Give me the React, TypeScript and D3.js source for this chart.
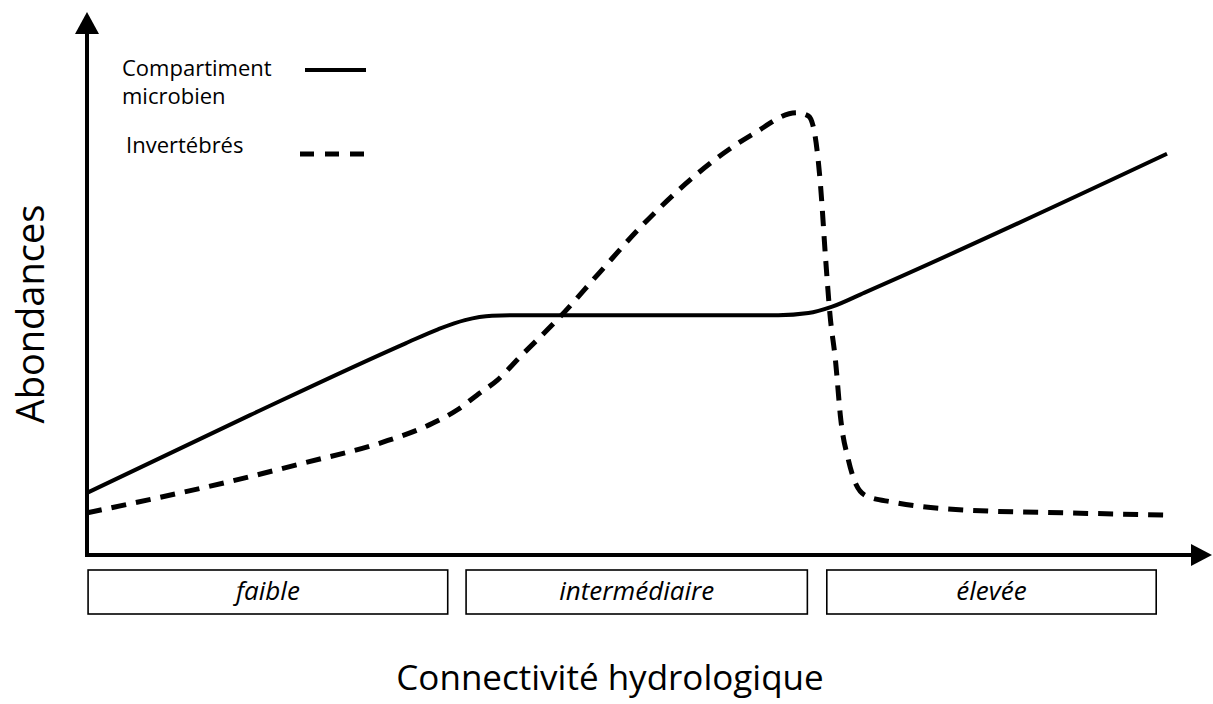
import { useEffect, useRef } from "react";
import * as d3 from "d3";

// connectivity (0-10) vs abundance (0-10)
const microbienX = [0, 1.51, 2.95, 3.25, 3.5, 3.75, 4.0, 6.4, 6.68, 6.9, 7.2, 10];
const microbienY = [1.15, 2.59, 3.92, 4.18, 4.35, 4.43, 4.44, 4.44, 4.48, 4.6, 4.86, 7.43];

const invertX = [
  0, 0.68, 1.3, 2.0, 2.74, 3.2, 3.43, 3.61, 3.8, 4.01, 4.38, 4.75, 5.12, 5.49,
  5.82, 6.17, 6.57, 6.68, 6.74, 6.79, 6.84, 6.88, 6.93, 6.98, 7.05, 7.12, 7.22,
  7.46, 8.15, 9.07, 10,
];
const invertY = [
  0.78, 1.07, 1.35, 1.7, 2.09, 2.44, 2.69, 2.96, 3.24, 3.67, 4.41, 5.24, 6.06,
  6.78, 7.33, 7.8, 8.19, 8.13, 7.78, 6.89, 5.46, 4.44, 3.61, 2.5, 1.76, 1.31,
  1.09, 0.98, 0.83, 0.78, 0.74,
];

const zoneLabels = ["faible", "intermédiaire", "élevée"];
const zoneStart = [0.01, 3.51, 6.85];
const zoneEnd = [3.34, 6.67, 9.9];

const legendLabels = [["Compartiment", "microbien"], ["Invertébrés"]];

const font = "'Open Sans', 'Noto Sans', sans-serif";

function App() {
  const svgRef = useRef(null);

  useEffect(() => {
    const width = 1213;
    const height = 704;
    const svg = d3.select(svgRef.current);
    svg.selectAll("*").remove();

    const x = d3.scaleLinear().domain([0, 10]).range([87, 1167]);
    const y = d3.scaleLinear().domain([0, 10]).range([555, 15]);

    const x0 = x(0);
    const y0 = y(0);

    // axes with arrowheads
    svg
      .append("line")
      .attr("x1", x0)
      .attr("y1", y0 + 2)
      .attr("x2", x0)
      .attr("y2", 30)
      .attr("stroke", "black")
      .attr("stroke-width", 4);
    svg
      .append("path")
      .attr("d", `M${x0},12 L${x0 - 12},34 L${x0 + 12},34 Z`)
      .attr("fill", "black");

    svg
      .append("line")
      .attr("x1", x0 - 2)
      .attr("y1", y0)
      .attr("x2", 1195)
      .attr("y2", y0)
      .attr("stroke", "black")
      .attr("stroke-width", 4);
    svg
      .append("path")
      .attr("d", `M1212,${y0} L1191,${y0 - 11} L1191,${y0 + 11} Z`)
      .attr("fill", "black");

    // curves
    const line = d3
      .line()
      .x((d) => x(d[0]))
      .y((d) => y(d[1]))
      .curve(d3.curveMonotoneX);

    svg
      .append("path")
      .attr("d", line(microbienX.map((v, i) => [v, microbienY[i]])))
      .attr("fill", "none")
      .attr("stroke", "black")
      .attr("stroke-width", 4);

    svg
      .append("path")
      .attr("d", line(invertX.map((v, i) => [v, invertY[i]])))
      .attr("fill", "none")
      .attr("stroke", "black")
      .attr("stroke-width", 5)
      .attr("stroke-dasharray", "15 10");

    // zone boxes
    const zones = svg
      .selectAll("g.zone")
      .data(zoneLabels)
      .enter()
      .append("g")
      .attr("class", "zone");
    zones
      .append("rect")
      .attr("x", (d, i) => x(zoneStart[i]))
      .attr("y", 570)
      .attr("width", (d, i) => x(zoneEnd[i]) - x(zoneStart[i]))
      .attr("height", 44)
      .attr("fill", "white")
      .attr("stroke", "black")
      .attr("stroke-width", 1.6);
    zones
      .append("text")
      .attr("x", (d, i) => (x(zoneStart[i]) + x(zoneEnd[i])) / 2)
      .attr("y", 600)
      .attr("text-anchor", "middle")
      .attr("font-family", font)
      .attr("font-style", "italic")
      .attr("font-size", 26)
      .text((d) => d);

    // legend
    const legend = svg.append("g").attr("font-family", font).attr("font-size", 22);
    legend
      .append("text")
      .attr("x", 122)
      .attr("y", 76)
      .text(legendLabels[0][0]);
    legend
      .append("text")
      .attr("x", 122)
      .attr("y", 104)
      .text(legendLabels[0][1]);
    legend
      .append("line")
      .attr("x1", 305)
      .attr("x2", 366)
      .attr("y1", 70)
      .attr("y2", 70)
      .attr("stroke", "black")
      .attr("stroke-width", 4);
    legend
      .append("text")
      .attr("x", 126)
      .attr("y", 153)
      .text(legendLabels[1][0]);
    legend
      .append("line")
      .attr("x1", 300)
      .attr("x2", 368)
      .attr("y1", 154)
      .attr("y2", 154)
      .attr("stroke", "black")
      .attr("stroke-width", 5)
      .attr("stroke-dasharray", "14 11");

    // axis titles
    svg
      .append("text")
      .attr("x", 610)
      .attr("y", 690)
      .attr("text-anchor", "middle")
      .attr("font-family", font)
      .attr("font-size", 35)
      .text("Connectivité hydrologique");
    svg
      .append("text")
      .attr("transform", `translate(44,314) rotate(-90)`)
      .attr("text-anchor", "middle")
      .attr("font-family", font)
      .attr("font-size", 38)
      .text("Abondances");

    svg.attr("width", width).attr("height", height);
  }, []);

  return (
    <svg
      ref={svgRef}
      width={1213}
      height={704}
      style={{ position: "absolute", left: 0, top: 0, background: "white" }}
    />
  );
}

export default App;
